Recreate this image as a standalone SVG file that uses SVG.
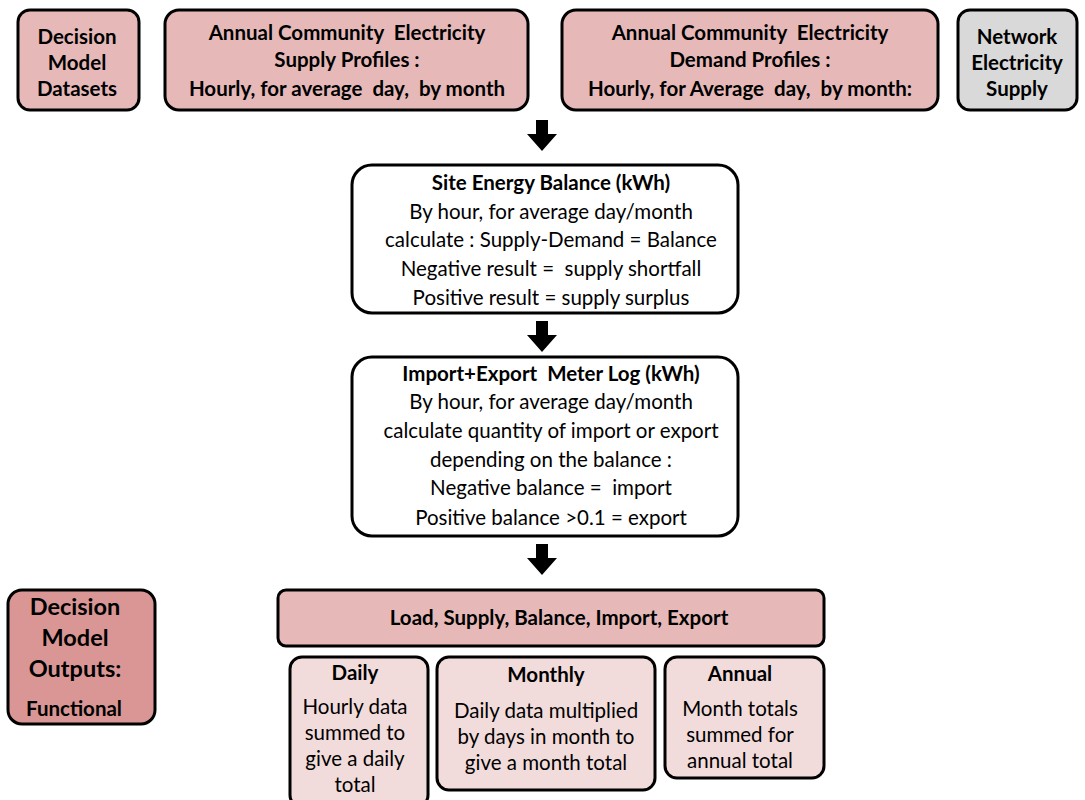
<svg xmlns="http://www.w3.org/2000/svg" width="1085" height="800" viewBox="0 0 1085 800" xml:space="preserve">
  <style>
    .box { stroke: #000; stroke-width: 3; }
    .pink { fill: #e6b9b8; }
    .dark { fill: #d99694; }
    .grey { fill: #d9d9d9; }
    .white { fill: #fff; }
    .pale { fill: #f2dcdb; }
    text { font-family: Lato, "Open Sans", sans-serif; fill: #000; text-anchor: middle; white-space: pre; }
    .b { font-weight: bold; }
    .t20 { font-size: 20.5px; }
    .t23 { font-size: 23.5px; }
    .t19 { font-size: 20.5px; }
    .arrow { fill: #000; }
  </style>
  <defs>
    <!-- block arrow pointing down, origin at top centre of the shaft -->
    <path id="blockArrow" d="M-6,0 H6 V14 H15 L0,31 L-15,14 H-6 Z"/>
  </defs>

  <g id="datasets">
    <rect class="box pink" x="18" y="10" width="121" height="100" rx="12"/>
    <text class="b t20" x="77" y="44">Decision</text>
    <text class="b t20" x="77" y="70">Model</text>
    <text class="b t20" x="77" y="96">Datasets</text>
  </g>

  <g id="supply-profiles">
    <rect class="box pink" x="165" y="10" width="363" height="100" rx="14"/>
    <text class="b t20" x="347" y="40">Annual Community  Electricity</text>
    <text class="b t20" x="347" y="67">Supply Profiles :</text>
    <text class="b t20" x="347" y="96">Hourly, for average  day,  by month</text>
  </g>

  <g id="demand-profiles">
    <rect class="box pink" x="562" y="10" width="376" height="100" rx="14"/>
    <text class="b t20" x="750" y="40">Annual Community  Electricity</text>
    <text class="b t20" x="750" y="67">Demand Profiles :</text>
    <text class="b t20" x="750" y="96">Hourly, for Average  day,  by month:</text>
  </g>

  <g id="network-supply">
    <rect class="box grey" x="958" y="10" width="119" height="100" rx="12"/>
    <text class="b t20" x="1017" y="44">Network</text>
    <text class="b t20" x="1017" y="70">Electricity</text>
    <text class="b t20" x="1017" y="96">Supply</text>
  </g>

  <g id="site-energy-balance">
    <rect class="box white" x="352" y="165" width="386" height="148" rx="20"/>
    <text class="b t19" x="551" y="190">Site Energy Balance (kWh)</text>
    <text class="t19" x="551" y="219">By hour, for average day/month</text>
    <text class="t19" x="551" y="247">calculate : Supply-Demand = Balance</text>
    <text class="t19" x="551" y="276">Negative result =  supply shortfall</text>
    <text class="t19" x="551" y="305">Positive result = supply surplus</text>
  </g>

  <g id="meter-log">
    <rect class="box white" x="352" y="357" width="386" height="179" rx="20"/>
    <text class="b t19" x="551" y="381">Import+Export  Meter Log (kWh)</text>
    <text class="t19" x="551" y="409">By hour, for average day/month</text>
    <text class="t19" x="551" y="438">calculate quantity of import or export</text>
    <text class="t19" x="551" y="467">depending on the balance :</text>
    <text class="t19" x="551" y="495">Negative balance =  import</text>
    <text class="t19" x="551" y="525">Positive balance &gt;0.1 = export</text>
  </g>

  <g id="outputs-label">
    <rect class="box dark" x="8" y="590" width="147" height="134" rx="14"/>
    <text class="b t23" x="75" y="615">Decision</text>
    <text class="b t23" x="75" y="646">Model</text>
    <text class="b t23" x="75" y="677">Outputs:</text>
    <text class="b t20" x="74" y="716">Functional</text>
  </g>

  <g id="output-quantities">
    <rect class="box pink" x="278" y="590" width="546" height="56" rx="8"/>
    <text class="b t19" x="559" y="625">Load, Supply, Balance, Import, Export</text>
  </g>

  <g id="daily">
    <rect class="box pale" x="290" y="657" width="138" height="150" rx="12"/>
    <text class="b t19" x="355" y="680">Daily</text>
    <text class="t19" x="355" y="714">Hourly data</text>
    <text class="t19" x="355" y="740">summed to</text>
    <text class="t19" x="355" y="766">give a daily</text>
    <text class="t19" x="355" y="792">total</text>
  </g>

  <g id="monthly">
    <rect class="box pale" x="437" y="657" width="218" height="133" rx="12"/>
    <text class="b t19" x="546" y="682">Monthly</text>
    <text class="t19" x="546" y="718">Daily data multiplied</text>
    <text class="t19" x="546" y="744">by days in month to</text>
    <text class="t19" x="546" y="770">give a month total</text>
  </g>

  <g id="annual">
    <rect class="box pale" x="665" y="657" width="159" height="121" rx="12"/>
    <text class="b t19" x="740" y="681">Annual</text>
    <text class="t19" x="740" y="716">Month totals</text>
    <text class="t19" x="740" y="742">summed for</text>
    <text class="t19" x="740" y="768">annual total</text>
  </g>

  <g id="connectors">
    <use class="arrow" href="#blockArrow" x="542" y="120"/>
    <use class="arrow" href="#blockArrow" x="542" y="321"/>
    <use class="arrow" href="#blockArrow" x="542" y="544"/>
  </g>
</svg>
